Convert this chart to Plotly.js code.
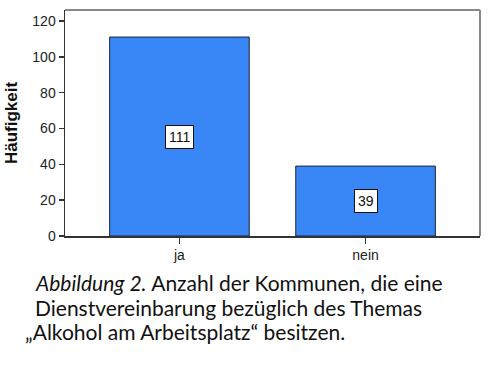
<!DOCTYPE html>
<html><head><meta charset="utf-8">
<script src="https://cdn.plot.ly/plotly-3.0.1.min.js"></script>
<style>body{margin:0;background:#fff}#c{width:500px;height:366px}</style>
</head><body><div id="c"></div>
<script>
const categories = ["ja", "nein"];
const counts = [111, 39];
const yTicks = [0, 20, 40, 60, 80, 100, 120];
const yTitle = "Häufigkeit";
const captionLines = [
  "<i>Abbildung 2.</i> Anzahl der Kommunen, die eine",
  "Dienstvereinbarung bezüglich des Themas",
  "„Alkohol am Arbeitsplatz“ besitzen."
];

const trace = {
  type: "bar", x: categories, y: counts, width: 0.75,
  marker: {color: "#3987F7", line: {color: "#1c2333", width: 1}},
  hoverinfo: "none"
};

const annotations = categories.map((c, i) => ({
  x: c, y: counts[i] / 2, xref: "x", yref: "y", text: String(counts[i]),
  showarrow: false, bgcolor: "#ffffff", bordercolor: "#111111", borderwidth: 1, borderpad: 3,
  font: {family: "Liberation Sans, Arial, sans-serif", size: 14, color: "#111"}
}));
const capX = [33, 33, 23];
const capY = [282, 307, 331];
captionLines.forEach((t, i) => annotations.push({
  xref: "paper", yref: "paper", x: (capX[i] - 65) / 415, y: 1 - (capY[i] - 10) / 226,
  xanchor: "left", yanchor: "middle", text: t, showarrow: false, align: "left",
  font: {family: "Lato, 'Open Sans', sans-serif", size: 21, color: "#111"}
}));

const layout = {
  width: 500, height: 366,
  margin: {l: 65, r: 20, t: 10, b: 130},
  paper_bgcolor: "#fff", plot_bgcolor: "#fff",
  showlegend: false,
  xaxis: {
    type: "category", range: [-0.615, 1.615],
    showline: true, linecolor: "#333", linewidth: 1.5, mirror: false,
    ticks: "outside", ticklen: 6, tickcolor: "#333", tickwidth: 1.5,
    tickfont: {family: "Liberation Sans, Arial, sans-serif", size: 14, color: "#222"},
    showgrid: false, zeroline: false, fixedrange: true
  },
  yaxis: {
    range: [0, 126.1], tickvals: yTicks, ticktext: yTicks.map(String),
    showline: true, linecolor: "#333", linewidth: 1.5,
    ticks: "outside", ticklen: 5, tickcolor: "#333", tickwidth: 1.5,
    tickfont: {family: "Liberation Sans, Arial, sans-serif", size: 14, color: "#222"},
    showgrid: false, zeroline: false, fixedrange: true,
    title: {text: "<b>" + yTitle + "</b>", standoff: 10,
      font: {family: "Liberation Sans, Arial, sans-serif", size: 17, color: "#111"}}
  },
  shapes: [
    {type: "line", xref: "paper", yref: "paper", x0: 0, x1: 1, y0: 1, y1: 1, line: {color: "#888", width: 2}},
    {type: "line", xref: "paper", yref: "paper", x0: 1, x1: 1, y0: 0, y1: 1, line: {color: "#888", width: 2}}
  ],
  annotations: annotations
};
Plotly.newPlot("c", [trace], layout, {displayModeBar: false, staticPlot: true});
</script></body></html>
